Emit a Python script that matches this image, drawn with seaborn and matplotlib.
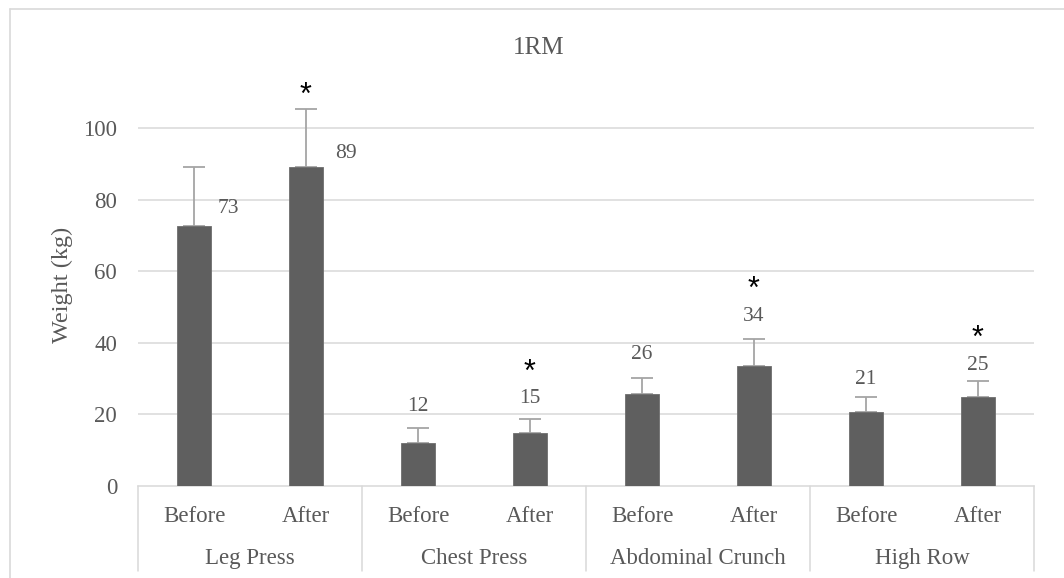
import numpy as np
import pandas as pd
import matplotlib
matplotlib.use("Agg")
import matplotlib.pyplot as plt
import matplotlib.transforms as mtransforms
from matplotlib.lines import Line2D
import seaborn as sns

# ---------------- data ----------------
groups = ["Leg Press", "Chest Press", "Abdominal Crunch", "High Row"]
phases = ["Before", "After"]
before_vals = [72.6, 11.9, 25.6, 20.8]
after_vals = [89.2, 14.9, 33.6, 25.0]
before_sd = [16.7, 4.4, 4.7, 4.2]
after_sd = [16.3, 3.7, 7.4, 4.4]
after_significant = [True, True, True, True]
title = "1RM"
ylabel = "Weight (kg)"
yticks = [0, 20, 40, 60, 80, 100]

rows = []
for g, bv, av, bs, asd, sig in zip(groups, before_vals, after_vals, before_sd, after_sd, after_significant):
    rows.append(dict(group=g, phase="Before", slot=f"{g}|Before", value=bv, sd=bs, sig=False))
    rows.append(dict(group=g, phase="After", slot=f"{g}|After", value=av, sd=asd, sig=sig))
df = pd.DataFrame(rows)

# label placement style (offsets above error bar top, in data units)
label_gap = [0, 0, 4.7, 4.5, 5.2, 5.1, 3.4, 3.0]

# ---------------- style ----------------
sns.set_theme(style="white")
plt.rcParams["font.family"] = ["Liberation Serif", "DejaVu Serif"]
TXT = "#595959"
BAR = "#5f5f5f"
GRID = "#d9d9d9"
ERR = "#a5a5a5"
FS_TICK = 16.5
FS_VAL = 15.5
FS_STAR = 22
STAR_BASE = 4.9  # asterisk glyph centre above its baseline, data units

W, H = 1064, 578
fig = plt.figure(figsize=(W / 100, H / 100), dpi=100)
ax_left, ax_right, ax_bottom_px, ymax = 138, 1034, 486, 120
px_per_unit = 3.576
ax_top_px = ax_bottom_px - ymax * px_per_unit
ax_h_px = ax_bottom_px - ax_top_px
ax = fig.add_axes([ax_left / W, 1 - ax_bottom_px / H,
                   (ax_right - ax_left) / W, ax_h_px / H])

sns.barplot(data=df, x="slot", y="value", order=list(df["slot"]), color=BAR,
            saturation=1, width=0.31, errorbar=None, ax=ax, zorder=3,
            edgecolor="#6e6e6e", linewidth=0.6)

xs = np.arange(len(df))
ax.errorbar(xs, df["value"], yerr=[np.zeros(len(df)), df["sd"]], fmt="none",
            ecolor=ERR, elinewidth=1.3, capsize=8, capthick=1.3, zorder=2)

ax.set_xlim(-0.5, len(df) - 0.5)
ax.set_ylim(0, ymax)
ax.set_yticks(yticks)
ax.set_yticklabels([str(t) for t in yticks], fontsize=FS_TICK, color=TXT)
for t in yticks[1:]:
    ax.axhline(t, color=GRID, lw=1.1, zorder=1)
for s in ["top", "right", "left"]:
    ax.spines[s].set_visible(False)
ax.spines["bottom"].set_color(GRID)
ax.spines["bottom"].set_linewidth(1.1)
ax.tick_params(axis="y", length=0, pad=15)
ax.set_xticks([])
ax.set_xlabel("")
ax.set_ylabel("")

# two-level category axis
trans = mtransforms.blended_transform_factory(ax.transData, ax.transAxes)
y_phase = -(522.3 - ax_bottom_px) / ax_h_px
y_group = -(564 - ax_bottom_px) / ax_h_px
y_sep = -(571 - ax_bottom_px) / ax_h_px
for i, p in enumerate(df["phase"]):
    ax.text(i, y_phase, p, transform=trans, ha="center", va="baseline",
            fontsize=FS_TICK, color=TXT)
for i, g in enumerate(groups):
    ax.text(2 * i + 0.5, y_group, g, transform=trans, ha="center", va="baseline",
            fontsize=FS_TICK, color=TXT)
for i in range(len(groups) + 1):
    ax.add_line(Line2D([2 * i - 0.5, 2 * i - 0.5], [0, y_sep], transform=trans,
                       color=GRID, lw=1.1, clip_on=False))

# value labels and asterisks
for i, r in df.iterrows():
    lab = f"{r['value']:.0f}"
    top = r["value"] + r["sd"]
    if r["group"] == "Leg Press":
        dx = 0.31 if r["phase"] == "Before" else 0.36
        ly = r["value"] + (3.7 if r["phase"] == "Before" else 2.4)
        ax.text(i + dx, ly, lab, ha="center", va="baseline", fontsize=FS_VAL, color=TXT, zorder=4)
        star_c = top + 6.2
    else:
        ly = top + label_gap[i]
        ax.text(i, ly, lab, ha="center", va="baseline", fontsize=FS_VAL, color=TXT, zorder=4)
        star_c = ly + 11.3
    if r["sig"]:
        ax.text(i, star_c - STAR_BASE, "*", ha="center", va="baseline",
                fontsize=FS_STAR, color="black", family="Liberation Sans", zorder=4)

fig.text(539 / W, 1 - 54.3 / H, title, ha="center", va="baseline", fontsize=18, color=TXT)
fig.text(62 / W, 1 - 285 / H, ylabel, ha="center", va="center", rotation=90,
         fontsize=17.5, color=TXT)

# chart border (left and top visible)
fig.add_artist(Line2D([10 / W, 10 / W], [0, 1 - 9 / H], transform=fig.transFigure, color=GRID, lw=1.2))
fig.add_artist(Line2D([10 / W, 1], [1 - 9 / H, 1 - 9 / H], transform=fig.transFigure, color=GRID, lw=1.2))

fig.savefig("out.png", dpi=100)
